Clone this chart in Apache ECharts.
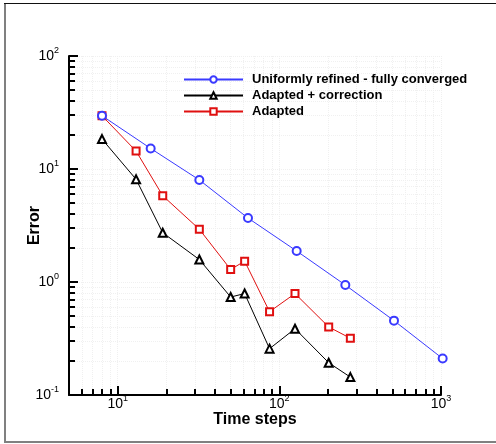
<!DOCTYPE html>
<html>
<head>
<meta charset="utf-8">
<script src="https://cdn.jsdelivr.net/npm/echarts@6/dist/echarts.min.js"></script>
<style>
  html, body { margin: 0; padding: 0; background: #fff; }
  #chart { width: 496px; height: 444px; }
</style>
</head>
<body>
<div id="chart"></div>
<script>
const uniformSteps = [8, 16, 32, 64, 128, 256, 512, 1024];
const uniformError = [29.6, 15.2, 8.0, 3.68, 1.88, 0.94, 0.455, 0.21];
const adaptedSteps = [8, 13, 19, 32, 50, 61, 87, 125, 202, 275];
const adaptedError = [29.6, 14.4, 5.8, 2.93, 1.29, 1.53, 0.546, 0.79, 0.40, 0.318];
const correctedError = [18.4, 8.1, 2.73, 1.58, 0.736, 0.79, 0.257, 0.386, 0.193, 0.144];

const xMajorTicks = [10, 100, 1000];
const xMinorTicks = [5, 6, 7, 8, 9, 20, 30, 40, 50, 60, 70, 80, 90, 200, 300, 400, 500, 600, 700, 800, 900];
const yMajorTicks = [0.1, 1, 10, 100];
const yMinorTicks = [0.2, 0.3, 0.4, 0.5, 0.6, 0.7, 0.8, 0.9, 2, 3, 4, 5, 6, 7, 8, 9, 20, 30, 40, 50, 60, 70, 80, 90];

const FONT = '"Liberation Sans", Arial, sans-serif';

const pairs = (xs, ys) => xs.map((x, i) => [x, ys[i]]);

// 10^n tick labels, exponent as a raised small token
const powLabel = (v) => '{b|10}{s|' + Math.round(Math.log10(v)) + '}';
const powRich = {
  b: { fontSize: 14, fontFamily: FONT, color: '#000', lineHeight: 20 },
  s: { fontSize: 9, fontFamily: FONT, color: '#000', lineHeight: 10, verticalAlign: 'top' },
};
const gridDots = { show: true, lineStyle: { color: '#f0f0f0', type: 'dotted', width: 1 } };

const majorAxis = (min, max, ticks, extra) => Object.assign({
  type: 'log',
  min, max,
  axisLine: { show: true, onZero: false, lineStyle: { color: '#000', width: 2 } },
  axisTick: { show: true, inside: true, length: 9, lineStyle: { color: '#000', width: 2 }, customValues: ticks },
  axisLabel: { formatter: powLabel, rich: powRich, customValues: ticks, margin: 8 },
  splitLine: gridDots,
}, extra);

const minorAxis = (min, max, ticks, extra) => Object.assign({
  type: 'log',
  min, max,
  axisLine: { show: false },
  axisTick: { show: true, inside: true, length: 6, lineStyle: { color: '#000', width: 2 }, customValues: ticks },
  axisLabel: { show: false },
  splitLine: gridDots,
}, extra);

const chart = echarts.init(document.getElementById('chart'));

chart.setOption({
  animation: false,
  backgroundColor: '#fff',
  textStyle: { fontFamily: FONT },
  grid: { left: 69, top: 56, right: 55, bottom: 49 },
  legend: {
    orient: 'vertical',
    left: 183,
    top: 73,
    padding: 0,
    itemWidth: 59,
    itemHeight: 8,
    itemGap: 3,
    textStyle: { fontSize: 13, fontWeight: 'bold', color: '#000', fontFamily: FONT, padding: [0, 0, 0, 4] },
    data: ['Uniformly refined - fully converged', 'Adapted + correction', 'Adapted'],
  },
  xAxis: [
    majorAxis(5, 1000, xMajorTicks, {
      name: 'Time steps',
      nameLocation: 'middle',
      nameGap: 17,
      nameMoveOverlap: false,
      nameTextStyle: { fontSize: 16, fontWeight: 'bold', color: '#000', fontFamily: FONT, verticalAlign: 'top' },
      axisLabel: { formatter: powLabel, rich: powRich, customValues: xMajorTicks, margin: -1 },
    }),
    minorAxis(5, 1000, xMinorTicks, { position: 'bottom' }),
  ],
  yAxis: [
    majorAxis(0.1, 100, yMajorTicks, {
      name: 'Error',
      nameLocation: 'middle',
      nameGap: 26,
      nameMoveOverlap: false,
      nameTextStyle: { fontSize: 16, fontWeight: 'bold', color: '#000', fontFamily: FONT },
      axisLabel: { formatter: powLabel, rich: powRich, customValues: yMajorTicks, margin: 10 },
    }),
    minorAxis(0.1, 100, yMinorTicks, { position: 'left' }),
  ],
  series: [
    {
      name: 'Uniformly refined - fully converged',
      type: 'line',
      data: pairs(uniformSteps, uniformError),
      symbol: 'emptyCircle',
      symbolSize: 8,
      clip: false,
      color: '#3a3aff',
      lineStyle: { width: 1 },
      z: 3,
    },
    {
      name: 'Adapted + correction',
      type: 'line',
      data: pairs(adaptedSteps, correctedError),
      symbol: 'emptyTriangle',
      symbolSize: 8,
      color: '#000',
      lineStyle: { width: 1 },
    },
    {
      name: 'Adapted',
      type: 'line',
      data: pairs(adaptedSteps, adaptedError),
      symbol: 'emptyRect',
      symbolSize: 7,
      color: '#e01010',
      lineStyle: { width: 1 },
      z: 2,
    },
  ],
  graphic: [
    { type: 'line', shape: { x1: 5, y1: 3, x2: 5, y2: 442 }, style: { stroke: '#808080', lineWidth: 2 } },
    { type: 'line', shape: { x1: 4, y1: 3.5, x2: 496, y2: 3.5 }, style: { stroke: '#111', lineWidth: 1 } },
    { type: 'line', shape: { x1: 4, y1: 442, x2: 496, y2: 442 }, style: { stroke: '#808080', lineWidth: 2 } },
  ],
});
</script>
</body>
</html>
